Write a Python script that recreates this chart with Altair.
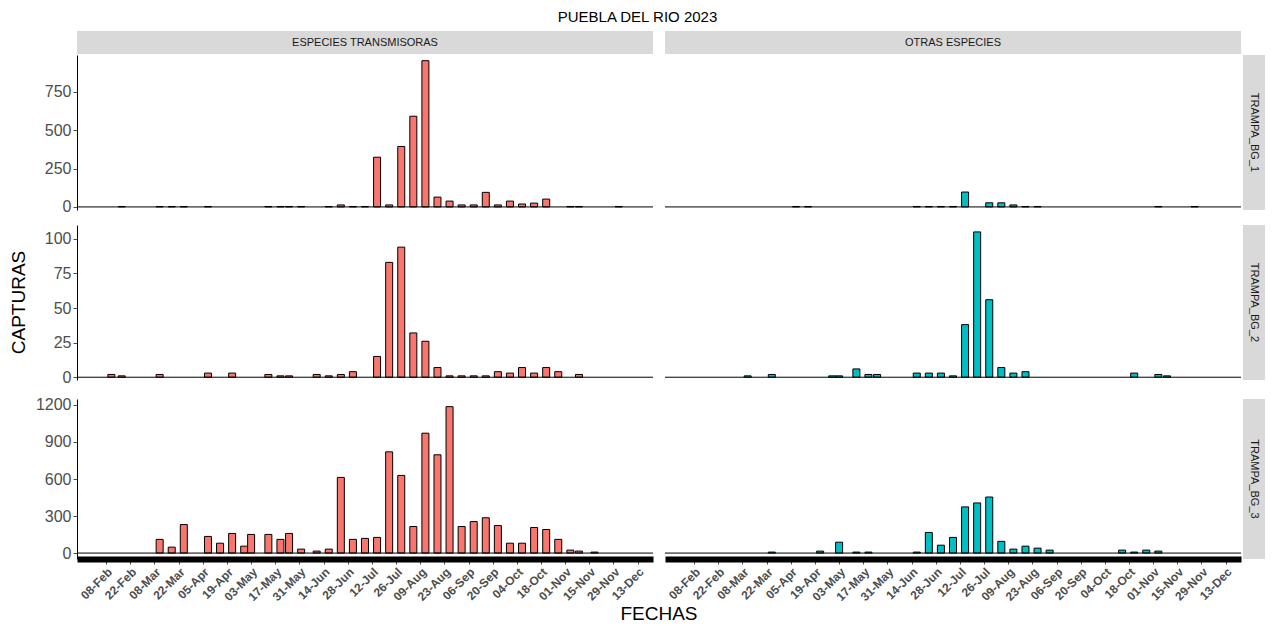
import pandas as pd
import altair as alt

# capturas por trampa y grupo (fecha MM-DD, valor)
l1_fechas = ["02-17", "03-11", "03-18", "03-25", "04-08", "05-13", "05-20", "05-25", "06-01", "06-17", "06-24", "07-01", "07-08", "07-15", "07-22", "07-29", "08-05", "08-12", "08-19", "08-26", "09-02", "09-09", "09-16", "09-23", "09-30", "10-07", "10-14", "10-21", "11-04", "11-09", "12-02"]
l1_valores = [3, 3, 3, 3, 3, 3, 3, 3, 3, 3, 13, 3, 3, 324, 13, 394, 591, 953, 64, 38, 13, 13, 95, 13, 38, 19, 25, 51, 3, 3, 3]

l2_fechas = ["02-11", "02-17", "03-11", "04-08", "04-22", "05-13", "05-20", "05-25", "06-10", "06-17", "06-24", "07-01", "07-15", "07-22", "07-29", "08-05", "08-12", "08-19", "08-26", "09-02", "09-09", "09-16", "09-23", "09-30", "10-07", "10-14", "10-21", "10-28", "11-09"]
l2_valores = [2, 1, 2, 3, 3, 2, 1, 1, 2, 1, 2, 4, 15, 83, 94, 32, 26, 7, 1, 1, 1, 1, 4, 3, 7, 3, 7, 4, 2]

l3_fechas = ["03-11", "03-18", "03-25", "04-08", "04-15", "04-22", "04-29", "05-03", "05-13", "05-20", "05-25", "06-01", "06-10", "06-17", "06-24", "07-01", "07-08", "07-15", "07-22", "07-29", "08-05", "08-12", "08-19", "08-26", "09-02", "09-09", "09-16", "09-23", "09-30", "10-07", "10-14", "10-21", "10-28", "11-04", "11-09", "11-18"]
l3_valores = [111, 48, 231, 135, 80, 159, 56, 151, 151, 111, 159, 32, 16, 32, 613, 111, 119, 127, 820, 629, 215, 971, 796, 1186, 215, 255, 286, 223, 80, 80, 207, 191, 111, 24, 16, 8]

r1_fechas = ["04-08", "04-15", "06-17", "06-24", "07-01", "07-08", "07-15", "07-29", "08-05", "08-12", "08-19", "08-26", "11-04", "11-25"]
r1_valores = [3, 3, 3, 3, 3, 3, 97, 27, 27, 13, 3, 3, 3, 3]

r2_fechas = ["03-11", "03-25", "04-29", "05-03", "05-13", "05-20", "05-25", "06-17", "06-24", "07-01", "07-08", "07-15", "07-22", "07-29", "08-05", "08-12", "08-19", "10-21", "11-04", "11-09"]
r2_valores = [1, 2, 1, 1, 6, 2, 2, 3, 3, 3, 1, 38, 105, 56, 7, 3, 4, 3, 2, 1]

r3_fechas = ["03-25", "04-22", "05-03", "05-13", "05-20", "06-17", "06-24", "07-01", "07-08", "07-15", "07-22", "07-29", "08-05", "08-12", "08-19", "08-26", "09-02", "10-14", "10-21", "10-28", "11-04"]
r3_valores = [8, 16, 88, 8, 8, 8, 167, 64, 127, 374, 406, 454, 95, 32, 56, 40, 24, 24, 8, 24, 16]

grupos = ["ESPECIES TRANSMISORAS", "OTRAS ESPECIES"]
trampas = ["TRAMPA_BG_1", "TRAMPA_BG_2", "TRAMPA_BG_3"]
colores = ["#F8766D", "#00BFC4"]
dominios_y = [[-20, 990], [-2, 110], [-48, 1248]]
alturas = [155, 155, 160]
ticks_y = [[0, 250, 500, 750], [0, 25, 50, 75, 100], [0, 300, 600, 900, 1200]]
ticks_x = ["02-08", "02-22", "03-08", "03-22", "04-05", "04-19", "05-03", "05-17", "05-31", "06-14", "06-28", "07-12", "07-26", "08-09", "08-23", "09-06", "09-20", "10-04", "10-18", "11-01", "11-15", "11-29", "12-13"]

datos = [[(l1_fechas, l1_valores), (r1_fechas, r1_valores)],
         [(l2_fechas, l2_valores), (r2_fechas, r2_valores)],
         [(l3_fechas, l3_valores), (r3_fechas, r3_valores)]]

W = 576
FONT = "Liberation Sans"


def texto(t, **kw):
    return alt.Chart(pd.DataFrame({"t": [t]})).mark_text(font=FONT, **kw).encode(text="t:N")


def celda(i, j):
    H = alturas[i]
    fechas, valores = datos[i][j]
    df = pd.DataFrame({"fecha": ["2023-" + f for f in fechas], "valor": valores})
    if i == 2:
        xaxis = alt.Axis(values=[alt.DateTime(year=2023, month=int(t[:2]), date=int(t[3:])) for t in ticks_x],
                         format="%d-%b", labelAngle=-45, labelAlign="right", labelBaseline="top",
                         labelFontSize=12, labelFontWeight="bold", labelColor="#4d4d4d",
                         domainColor="black", domainWidth=6, tickColor="#4d4d4d", tickSize=5,
                         title=None, grid=False, labelFont=FONT, labelPadding=2,
                         labelOverlap=False, labelBound=False, labelFlush=False)
    else:
        xaxis = None
    if j == 0:
        yaxis = alt.Axis(values=ticks_y[i], format="d", labelFontSize=16, labelColor="#4d4d4d",
                         domainColor="black", tickColor="#4d4d4d", tickSize=4, title=None, grid=False,
                         labelFont=FONT, labelOverlap=False, labelFlush=False)
    else:
        yaxis = None
    escala_y = alt.Scale(domain=dominios_y[i], nice=False, zero=False)
    barras = alt.Chart(df).mark_bar(width=7, color=colores[j], stroke="black", strokeWidth=1).encode(
        x=alt.X("fecha:T", scale=alt.Scale(domain=["2023-01-25", "2023-12-19"]), axis=xaxis),
        y=alt.Y("valor:Q", scale=escala_y, axis=yaxis),
    )
    cero = alt.Chart(pd.DataFrame({"v": [0]})).mark_rule(color="black", strokeWidth=1).encode(
        y=alt.Y("v:Q", scale=escala_y, axis=yaxis))
    capas = [barras, cero]
    if i == 0:
        capas.append(alt.Chart(pd.DataFrame({"a": [0]})).mark_rect(color="#d9d9d9").encode(
            x=alt.value(0), x2=alt.value(W), y=alt.value(-24), y2=alt.value(-1)))
        capas.append(texto(grupos[j], fontSize=11, color="#1a1a1a").encode(
            x=alt.value(W / 2), y=alt.value(-12)))
    if j == 1:
        capas.append(alt.Chart(pd.DataFrame({"a": [0]})).mark_rect(color="#d9d9d9").encode(
            x=alt.value(W + 2), x2=alt.value(W + 24), y=alt.value(0), y2=alt.value(H)))
        capas.append(texto(trampas[i], fontSize=11, color="#1a1a1a", angle=90).encode(
            x=alt.value(W + 13), y=alt.value(H / 2)))
    if i == 1 and j == 0:
        capas.append(texto("CAPTURAS", fontSize=19, color="black", angle=270).encode(
            x=alt.value(-58), y=alt.value(H / 2)))
    return alt.layer(*capas).properties(width=W, height=H)


celdas = [celda(i, j) for i in range(3) for j in range(2)]
rejilla = alt.concat(*celdas, columns=2, spacing=10)

fechas_titulo = texto("FECHAS", fontSize=19, color="black").encode(
    x=alt.value(582), y=alt.value(4)).properties(width=620, height=8)

chart = alt.vconcat(rejilla, fechas_titulo, spacing=2).properties(
    title=alt.TitleParams("PUEBLA DEL RIO 2023", fontSize=15, fontWeight="normal", font=FONT,
                          anchor="middle", color="black", offset=6),
    padding={"left": 2, "top": 2, "right": 0, "bottom": 0},
).configure_view(stroke=None)

chart.save("out.html", embed_options={"renderer": "svg", "actions": False})
